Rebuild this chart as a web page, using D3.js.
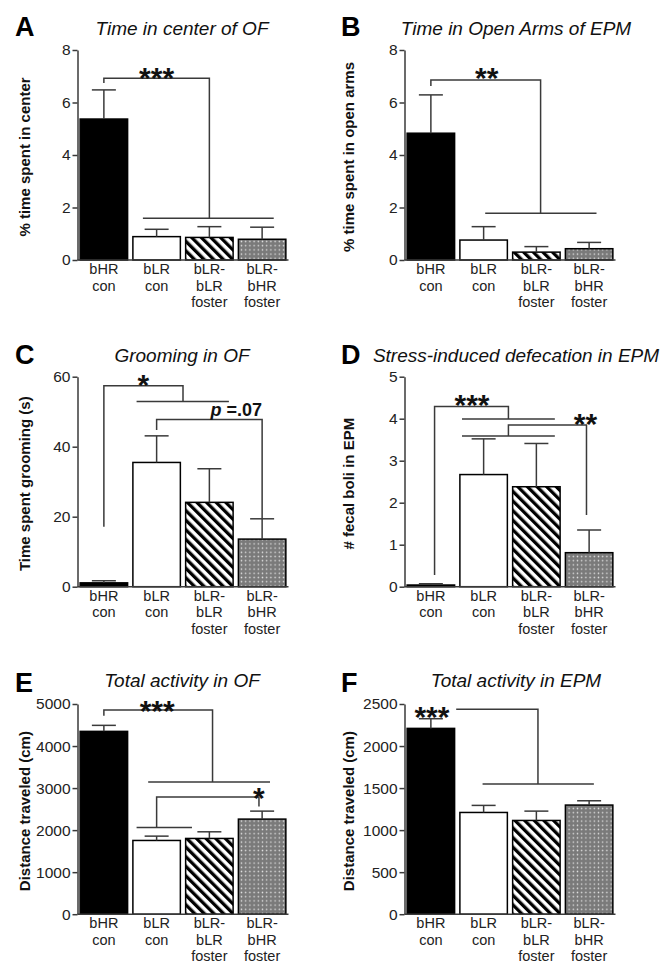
<!DOCTYPE html>
<html><head><meta charset="utf-8">
<script src="https://cdn.jsdelivr.net/npm/d3@7"></script>
<style>body{margin:0;background:#fff}svg{display:block}</style>
</head><body>
<svg id="chart" width="671" height="976"></svg>
<script>
// ---------- DATA ----------
const categories = ["bHR con", "bLR con", "bLR-bLR foster", "bLR-bHR foster"];
const categoryLines = [["bHR", "con"], ["bLR", "con"], ["bLR-", "bLR", "foster"], ["bLR-", "bHR", "foster"]];

const meanA = [5.37, 0.89, 0.86, 0.79];
const semA  = [1.11, 0.28, 0.41, 0.46];
const ticksA = [0, 2, 4, 6, 8];

const meanB = [4.83, 0.76, 0.30, 0.43];
const semB  = [1.46, 0.51, 0.21, 0.24];
const ticksB = [0, 2, 4, 6, 8];

const meanC = [1.1, 35.5, 24.1, 13.6];
const semC  = [0.6, 7.6, 9.6, 5.8];
const ticksC = [0, 20, 40, 60];

const meanD = [0.04, 2.67, 2.38, 0.81];
const semD  = [0.03, 0.85, 1.03, 0.54];
const ticksD = [0, 1, 2, 3, 4, 5];

const meanE = [4349, 1754, 1802, 2262];
const semE  = [143, 103, 158, 190];
const ticksE = [0, 1000, 2000, 3000, 4000, 5000];

const meanF = [2210, 1210, 1115, 1298];
const semF  = [115, 84, 111, 51];
const ticksF = [0, 500, 1000, 1500, 2000, 2500];

const titles = ["Time in center of OF", "Time in Open Arms of EPM", "Grooming in OF",
                "Stress-induced defecation in EPM", "Total activity in OF", "Total activity in EPM"];
const yLabels = ["% time spent in center", "% time spent in open arms", "Time spent grooming (s)",
                 "# fecal boli in EPM", "Distance traveled (cm)", "Distance traveled (cm)"];
const letters = ["A", "B", "C", "D", "E", "F"];

// significance annotations: [category position, value]
const bracketsA = [[[0, 6.74], [0, 6.92], [2, 6.92], [2, 1.59]], [[0.74, 1.59], [3.22, 1.59]]];
const starsA = [{t: "***", x: 1.0, y: 7.19}];
const bracketsB = [[[0, 6.63], [0, 6.86], [2.08, 6.86], [2.08, 1.78]], [[1.03, 1.78], [3.14, 1.78]]];
const starsB = [{t: "**", x: 1.06, y: 7.19}];
const bracketsC = [[[0, 17.1], [0, 57.4], [1.5, 57.4], [1.5, 52.9]], [[0.62, 52.9], [2.37, 52.9]],
                   [[1, 44.8], [1, 47.8], [3, 47.8], [3, 19.5]]];
const starsC = [{t: "*", x: 0.75, y: 59.6}];
const bracketsD = [[[0.07, 0.28], [0.07, 4.29], [1.47, 4.29], [1.47, 3.99]], [[0.59, 3.99], [2.35, 3.99]],
                   [[1.47, 3.59], [1.47, 3.85], [2.95, 3.85], [2.95, 1.71]], [[0.59, 3.59], [2.35, 3.59]]];
const starsD = [{t: "***", x: 0.78, y: 4.49}, {t: "**", x: 2.93, y: 4.03}];
const bracketsE = [[[0, 4722], [0, 4857], [2.06, 4857], [2.06, 3143]], [[0.84, 3143], [3.15, 3143]],
                   [[1, 2063], [1, 2786], [2.94, 2786], [2.94, 2563]], [[0.62, 2063], [1.67, 2063]]];
const starsE = [{t: "***", x: 1.01, y: 5004}, {t: "*", x: 2.94, y: 2921}];
const bracketsF = [[[0.48, 2437], [2.03, 2437], [2.03, 1548]], [[0.98, 1548], [3.09, 1548]]];
const starsF = [{t: "***", x: 0.02, y: 2428}];

// ---------- LAYOUT ----------
const FONT = "'Liberation Sans', Arial, Helvetica, sans-serif";
const colAxisX = [77.5, 404.5];
const colTitleX = [182, 516];
const colLetterX = [15, 341];
const colYLabelX = [30, 354];
const rowTop = [50, 376.7, 704];
const rowBottom = [260, 586.7, 914.2];
const rowTitleY = [35, 362, 687];
const rowLetterY = [36, 364, 692];
const plotW = 211;

const panels = [
  {mean: meanA, sem: semA, ticks: ticksA, br: bracketsA, st: starsA},
  {mean: meanB, sem: semB, ticks: ticksB, br: bracketsB, st: starsB},
  {mean: meanC, sem: semC, ticks: ticksC, br: bracketsC, st: starsC, ptext: {x: 3.0, y: 48.8}},
  {mean: meanD, sem: semD, ticks: ticksD, br: bracketsD, st: starsD},
  {mean: meanE, sem: semE, ticks: ticksE, br: bracketsE, st: starsE},
  {mean: meanF, sem: semF, ticks: ticksF, br: bracketsF, st: starsF}
];

const svg = d3.select("#chart");
const defs = svg.append("defs");
const stripe = defs.append("pattern").attr("id", "stripes").attr("patternUnits", "userSpaceOnUse")
  .attr("width", 6.8).attr("height", 6.8).attr("patternTransform", "rotate(-45)");
stripe.append("rect").attr("width", 6.8).attr("height", 6.8).attr("fill", "#fff");
stripe.append("rect").attr("width", 3.3).attr("height", 6.8).attr("fill", "#000");
const dots = defs.append("pattern").attr("id", "dots").attr("patternUnits", "userSpaceOnUse")
  .attr("width", 4.2).attr("height", 4.2);
dots.append("rect").attr("width", 4.2).attr("height", 4.2).attr("fill", "#7a7a7a");
dots.append("circle").attr("cx", 2.1).attr("cy", 2.1).attr("r", 0.75).attr("fill", "#e0e0e0");
const fills = ["#000", "#fff", "url(#stripes)", "url(#dots)"];

const LINE = "#3a3a3a";

panels.forEach((p, i) => {
  const col = i % 2, row = Math.floor(i / 2);
  const ax = colAxisX[col], top = rowTop[row], bot = rowBottom[row];
  const ymax = p.ticks[p.ticks.length - 1];
  const y = d3.scaleLinear().domain([0, ymax]).range([bot, top]);
  const x = d3.scaleBand().domain(categories).range([ax, ax + plotW]).paddingInner(0.1).paddingOuter(0.05);
  const c0 = x(categories[0]) + x.bandwidth() / 2;
  const cx = v => c0 + v * x.step();
  const g = svg.append("g");

  // bars
  g.selectAll("rect.bar").data(p.mean).join("rect").attr("class", "bar")
    .attr("x", (d, k) => x(categories[k])).attr("width", x.bandwidth())
    .attr("y", d => y(d)).attr("height", d => y(0) - y(d))
    .attr("fill", (d, k) => fills[k]).attr("stroke", "#000").attr("stroke-width", 1.5);

  // error bars
  p.mean.forEach((m, k) => {
    const xc = x(categories[k]) + x.bandwidth() / 2;
    g.append("line").attr("x1", xc).attr("x2", xc).attr("y1", y(m)).attr("y2", y(m + p.sem[k]))
      .attr("stroke", LINE).attr("stroke-width", 1.5);
    g.append("line").attr("x1", xc - 12).attr("x2", xc + 12).attr("y1", y(m + p.sem[k])).attr("y2", y(m + p.sem[k]))
      .attr("stroke", LINE).attr("stroke-width", 1.5);
  });

  // y axis
  const yAxis = d3.axisLeft(y).tickValues(p.ticks).tickSize(5).tickSizeOuter(0).tickPadding(2)
    .tickFormat(d3.format("d"));
  const ag = g.append("g").attr("transform", `translate(${ax},0)`).call(yAxis);
  ag.select(".domain").attr("stroke", LINE).attr("stroke-width", 1.5);
  ag.selectAll(".tick line").attr("stroke", LINE).attr("stroke-width", 1.5);
  ag.selectAll(".tick text").attr("font-family", FONT).attr("font-size", 15.5).attr("fill", "#222");

  // x axis baseline
  g.append("line").attr("x1", ax).attr("x2", ax + plotW).attr("y1", bot).attr("y2", bot)
    .attr("stroke", LINE).attr("stroke-width", 1.5);

  // x labels
  categoryLines.forEach((lines, k) => {
    const t = g.append("text").attr("font-family", FONT).attr("font-size", 14.5).attr("fill", "#222")
      .attr("text-anchor", "middle");
    lines.forEach((ln, j) => {
      t.append("tspan").attr("x", x(categories[k]) + x.bandwidth() / 2).attr("y", bot + 14 + j * 16.5).text(ln);
    });
  });

  // brackets
  const lineGen = d3.line().x(d => cx(d[0])).y(d => y(d[1]));
  p.br.forEach(b => {
    g.append("path").attr("d", lineGen(b)).attr("fill", "none").attr("stroke", LINE).attr("stroke-width", 1.5);
  });
  p.st.forEach(s => {
    g.append("text").attr("x", cx(s.x)).attr("y", y(s.y) + 0.56 * 30).attr("text-anchor", "middle")
      .attr("font-family", FONT).attr("font-weight", "bold").attr("font-size", 30).attr("fill", "#111").text(s.t);
  });
  if (p.ptext) {
    const t = g.append("text").attr("x", cx(p.ptext.x)).attr("y", y(p.ptext.y)).attr("text-anchor", "end")
      .attr("font-family", FONT).attr("font-weight", "bold").attr("font-size", 18).attr("fill", "#111");
    t.append("tspan").attr("font-style", "italic").text("p");
    t.append("tspan").text(" =.07");
  }

  // y label
  g.append("text").attr("transform", `translate(${colYLabelX[col]},${(top + bot) / 2 + 2}) rotate(-90)`)
    .attr("text-anchor", "middle").attr("font-family", FONT).attr("font-weight", "bold").attr("font-size", 15)
    .attr("fill", "#111").text(yLabels[i]);

  // title
  g.append("text").attr("x", colTitleX[col]).attr("y", rowTitleY[row]).attr("text-anchor", "middle")
    .attr("font-family", FONT).attr("font-style", "italic").attr("font-size", 19).attr("fill", "#111").text(titles[i]);

  // panel letter
  g.append("text").attr("x", colLetterX[col]).attr("y", rowLetterY[row])
    .attr("font-family", FONT).attr("font-weight", "bold").attr("font-size", 27).attr("fill", "#000").text(letters[i]);
});
</script>
</body></html>
